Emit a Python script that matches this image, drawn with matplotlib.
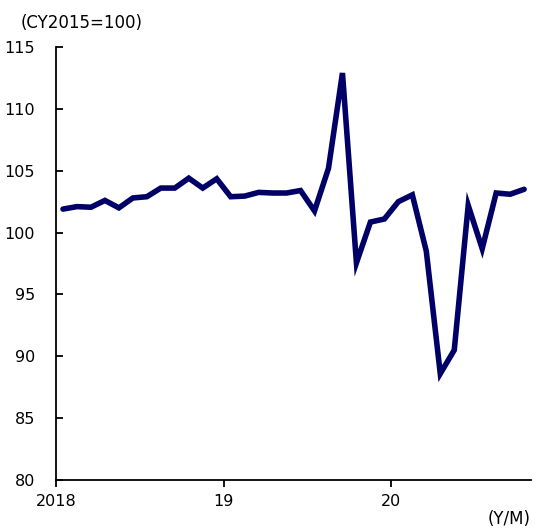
import numpy as np
import matplotlib.pyplot as plt

plt.rcParams['font.family'] = ['DejaVu Sans']

# monthly index, 2018/1 - 2020/10
values = [101.9, 102.1, 102.05, 102.6, 102.0, 102.8, 102.9, 103.6, 103.6, 104.4, 103.6, 104.35,
          102.9, 102.95, 103.25, 103.2, 103.2, 103.4, 101.75, 105.2, 112.9, 97.55, 100.85, 101.1,
          102.5, 103.05, 98.5, 88.6, 90.5, 102.2, 98.7, 103.2, 103.1, 103.5]
year_ticks = [0, 12, 24]
year_labels = ['2018', '19', '20']
yticks = [80, 85, 90, 95, 100, 105, 110, 115]

x = np.arange(len(values)) + 0.5

fig = plt.figure(figsize=(5.35, 5.29), dpi=100)
ax = fig.add_axes([0.1047, 0.0926, 0.888, 0.8185])
ax.plot(x, values, color='#000066', lw=4.0, solid_joinstyle='miter', solid_capstyle='round')

ax.set_xlim(0, 34)
ax.set_ylim(80, 115)
ax.set_yticks(yticks)
ax.set_xticks(year_ticks)
ax.set_xticklabels(year_labels)
ax.spines['top'].set_visible(False)
ax.spines['right'].set_visible(False)
for s in ['left', 'bottom']:
    ax.spines[s].set_linewidth(1.3)
ax.tick_params(axis='y', direction='in', length=5, width=1.3, pad=15, labelsize=11.5)
ax.tick_params(axis='x', direction='out', length=5, width=1.3, pad=5, labelsize=11.5)

fig.text(0.038, 0.957, '(CY2015=100)', fontsize=12, va='center', ha='left')
fig.text(0.992, 0.018, '(Y/M)', fontsize=12, va='center', ha='right')

fig.savefig('out.png', dpi=100)
